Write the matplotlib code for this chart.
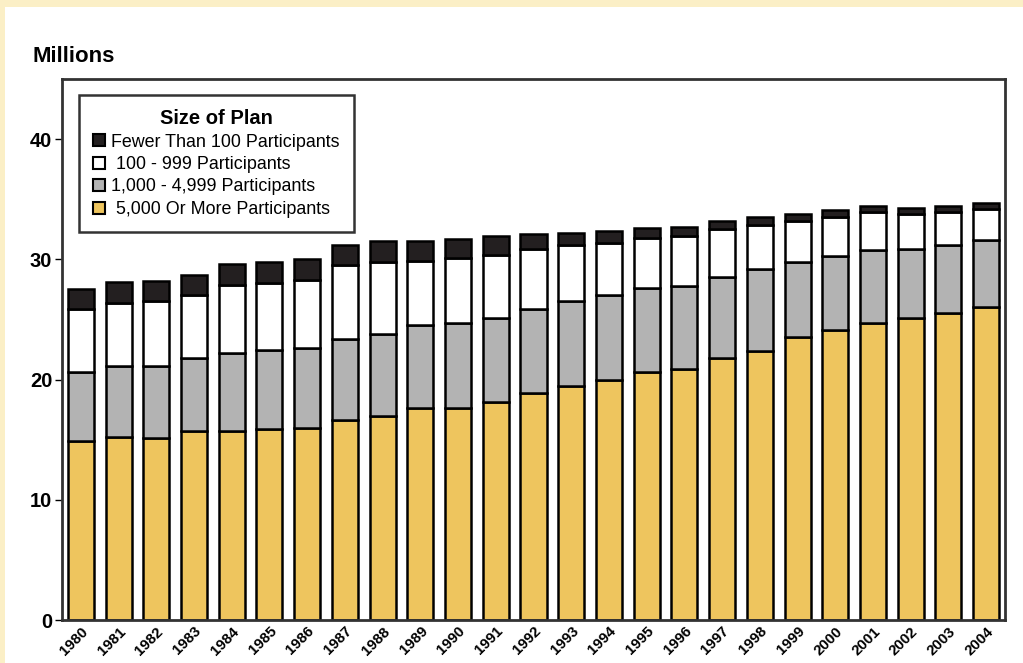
import numpy as np
import matplotlib.pyplot as plt
from matplotlib.patches import Patch, Rectangle

plt.rcParams['font.family'] = ['Liberation Sans', 'DejaVu Sans']

years = [str(y) for y in range(1980, 2005)]

# cumulative tops (millions)
large = [14.9, 15.2, 15.1, 15.7, 15.7, 15.9, 16.0, 16.6, 17.0, 17.6, 17.65, 18.1, 18.9,
         19.5, 20.0, 20.65, 20.9, 21.8, 22.4, 23.5, 24.1, 24.7, 25.1, 25.5, 26.05]
mid_top = [20.65, 21.1, 21.15, 21.8, 22.2, 22.5, 22.65, 23.4, 23.8, 24.5, 24.7, 25.1, 25.9,
           26.5, 27.0, 27.6, 27.8, 28.55, 29.2, 29.8, 30.3, 30.8, 30.9, 31.2, 31.6]
small_top = [25.9, 26.4, 26.55, 27.0, 27.9, 28.05, 28.3, 29.5, 29.75, 29.9, 30.1, 30.4, 30.9,
             31.2, 31.4, 31.8, 31.9, 32.5, 32.85, 33.2, 33.5, 33.9, 33.8, 33.95, 34.2]
total = [27.5, 28.1, 28.2, 28.7, 29.6, 29.8, 30.0, 31.2, 31.5, 31.55, 31.65, 31.9, 32.1,
         32.2, 32.35, 32.6, 32.7, 33.2, 33.5, 33.8, 34.1, 34.4, 34.3, 34.4, 34.65]

mid = np.array(mid_top) - np.array(large)
small = np.array(small_top) - np.array(mid_top)
tiny = np.array(total) - np.array(small_top)

labels = ['Fewer Than 100 Participants', ' 100 - 999 Participants',
          '1,000 - 4,999 Participants', ' 5,000 Or More Participants']
colors = ['#231f20', '#ffffff', '#b3b3b3', '#eec55e']

fig = plt.figure(figsize=(10.23, 6.63), dpi=100)
fig.patch.set_facecolor('#fbefc6')
fig.patches.append(Rectangle((5 / 1023, 0), 1, 1 - 7 / 663, transform=fig.transFigure,
                             facecolor='white', edgecolor='none', zorder=-10))

ax = fig.add_axes([62 / 1023, 1 - 620 / 663, 943 / 1023, 541 / 663])
x = np.arange(len(years))
w = 0.69
kw = dict(width=w, edgecolor='black', linewidth=1.8)
ax.bar(x, large, color=colors[3], **kw)
ax.bar(x, mid, bottom=large, color=colors[2], **kw)
ax.bar(x, small, bottom=mid_top, color=colors[1], **kw)
ax.bar(x, tiny, bottom=small_top, color=colors[0], **kw)

ax.set_xlim(-0.5, 24.5)
ax.set_ylim(0, 45)
ax.set_yticks([0, 10, 20, 30, 40])
ax.tick_params(axis='y', labelsize=14.5, length=5, width=1, pad=2)
for t in ax.get_yticklabels():
    t.set_fontweight('bold')
ax.set_xticks(x)
ax.set_xticklabels(years, rotation=45, ha='right', rotation_mode='anchor',
                   fontsize=10.8, fontweight='bold')
ax.tick_params(axis='x', length=0, pad=3)
for s in ax.spines.values():
    s.set_linewidth(2)
    s.set_color('#333333')

fig.text(33 / 1023, 1 - 57 / 663, 'Millions', fontsize=16, fontweight='bold', va='center')

handles = [Patch(facecolor=c, edgecolor='black', linewidth=1.5) for c in colors]
leg = ax.legend(handles, labels, title='Size of Plan', loc='upper left',
                bbox_to_anchor=(17 / 943, 1 - 16 / 541), fontsize=12.9,
                title_fontproperties={'weight': 'bold', 'size': 14.5},
                frameon=True, fancybox=False, edgecolor='black',
                handlelength=0.65, handleheight=0.65, handletextpad=0.35,
                labelspacing=0.3, borderpad=0.8, borderaxespad=0)
leg.get_frame().set_linewidth(1.8)

fig.savefig('out.png', dpi=100)
